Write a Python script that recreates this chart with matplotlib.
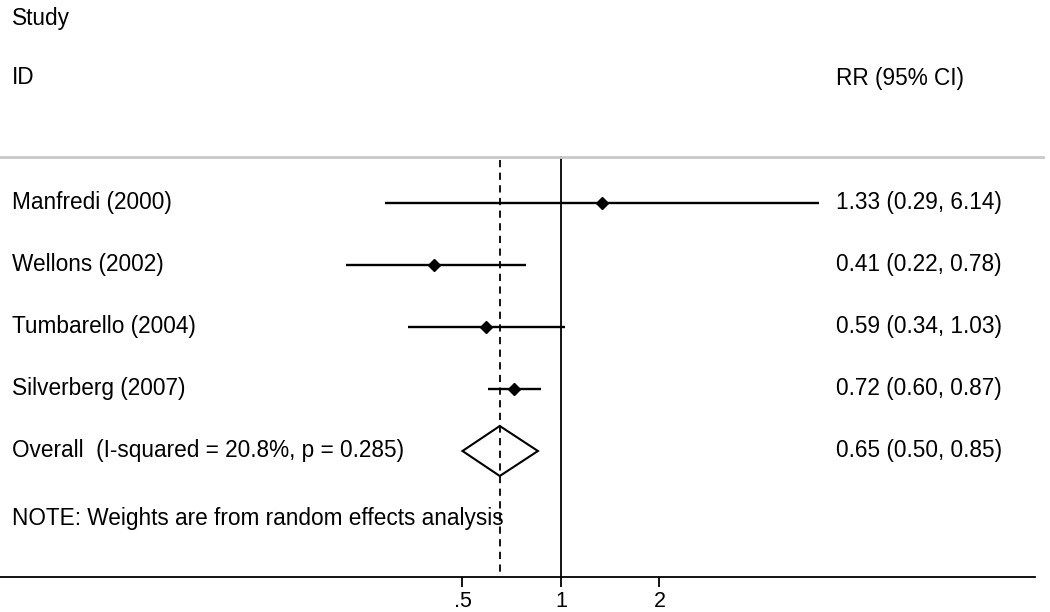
import numpy as np
import matplotlib
matplotlib.use("Agg")
import matplotlib.pyplot as plt
from matplotlib.patches import Polygon

plt.rcParams['font.family'] = ['Liberation Sans', 'DejaVu Sans']

# data
studies = ["Manfredi (2000)", "Wellons (2002)", "Tumbarello (2004)", "Silverberg (2007)"]
rr = [1.33, 0.41, 0.59, 0.72]
lo = [0.29, 0.22, 0.34, 0.60]
hi = [6.14, 0.78, 1.03, 0.87]
overall_label = "Overall  (I-squared = 20.8%, p = 0.285)"
overall_rr, overall_lo, overall_hi = 0.65, 0.50, 0.85
tick_vals = [0.5, 1, 2]
tick_labels = [".5", "1", "2"]

W, H = 1050, 612
fig = plt.figure(figsize=(W / 100, H / 100), dpi=100)

# axes: pixel 0..1035 wide, bottom at y=577
ax_bottom = 577
ax = fig.add_axes([0, (H - ax_bottom) / H, 1035 / W, ax_bottom / H])
ax.set_xscale("log")
px_per_log2 = 98.5
x1 = 561
ax.set_xlim(2 ** (-x1 / px_per_log2), 2 ** ((1035 - x1) / px_per_log2))
ax.set_ylim(ax_bottom, 0)

for s in ["top", "left", "right"]:
    ax.spines[s].set_visible(False)
ax.spines["bottom"].set_linewidth(1.3)
ax.set_yticks([])
ax.set_xticks(tick_vals)
ax.set_xticklabels(tick_labels, fontsize=15.5)
ax.xaxis.set_minor_locator(matplotlib.ticker.NullLocator())
ax.tick_params(axis="x", direction="out", length=7, width=1.3, pad=3)

row_y = [203, 265, 327, 389]
overall_y = 451

# reference lines
ax.plot([1, 1], [157, ax_bottom], color="black", lw=1.3)
ax.plot([overall_rr, overall_rr], [160, ax_bottom], color="black", lw=1.3,
        ls=(0, (4, 3)))

# top separator
fig.add_artist(plt.Line2D([0, 1043 / W], [1 - 157 / H, 1 - 157 / H],
                          color="#c8c8c8", lw=2))

# studies
for y, r, l, h in zip(row_y, rr, lo, hi):
    ax.plot([l, h], [y, y], color="black", lw=1.7, solid_capstyle="butt")
    ax.plot(r, y, marker="D", color="black", markersize=6)

# overall diamond
diamond = Polygon([[overall_lo, overall_y], [overall_rr, overall_y - 25],
                   [overall_hi, overall_y], [overall_rr, overall_y + 25]],
                  closed=True, fill=False, edgecolor="black", lw=1.5)
ax.add_patch(diamond)

# text
tr = ax.get_yaxis_transform()
fs = 16.3
ax.text(12 / 1035, 18, "Study", transform=tr, fontsize=fs, va="center")
ax.text(12 / 1035, 78, "ID", transform=tr, fontsize=fs, va="center")
ax.text(836 / 1035, 78, "RR (95% CI)", transform=tr, fontsize=fs, va="center")
for y, name, r, l, h in zip(row_y, studies, rr, lo, hi):
    ax.text(12 / 1035, y, name, transform=tr, fontsize=fs, va="center")
    ax.text(836 / 1035, y, f"{r:.2f} ({l:.2f}, {h:.2f})", transform=tr,
            fontsize=fs, va="center")
ax.text(12 / 1035, overall_y, overall_label, transform=tr, fontsize=fs, va="center")
ax.text(836 / 1035, overall_y,
        f"{overall_rr:.2f} ({overall_lo:.2f}, {overall_hi:.2f})",
        transform=tr, fontsize=fs, va="center")
ax.text(12 / 1035, 519, "NOTE: Weights are from random effects analysis",
        transform=tr, fontsize=fs, va="center")

fig.savefig("out.png", dpi=100)
